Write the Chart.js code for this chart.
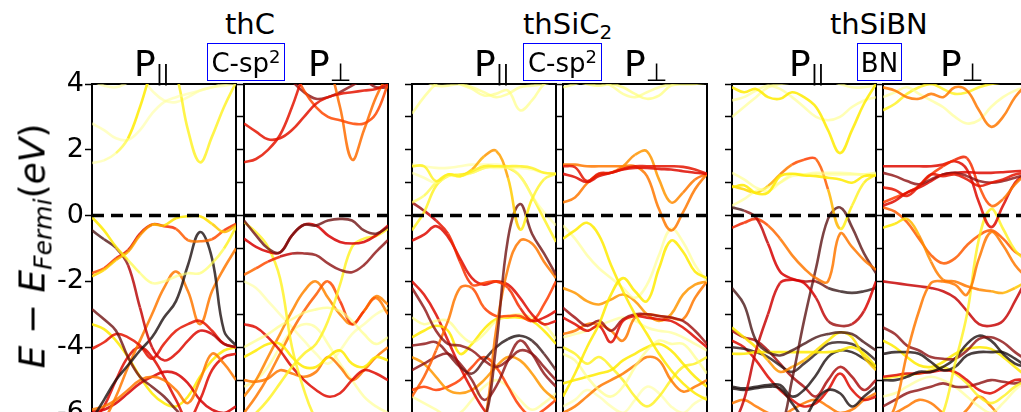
<!DOCTYPE html>
<html><head><meta charset="utf-8">
<script src="https://cdn.jsdelivr.net/npm/chart.js@4/dist/chart.umd.min.js"></script>
<style>
html,body{margin:0;padding:0;background:#fff;overflow:hidden;width:1021px;height:412px}
canvas{position:absolute}
.t{position:absolute;font-family:"DejaVu Sans";color:#000;white-space:nowrap;line-height:1}
.box{position:absolute;border:1.5px solid #0000ff;box-sizing:border-box;background:#fff;height:38px;top:43px}
.box span{position:absolute;left:0;right:0;text-align:center;top:6px;font-family:"DejaVu Sans";font-size:26px;line-height:1;white-space:nowrap}
.box sup{font-size:18px;vertical-align:9px;line-height:0}
.ttl{font-size:29px;top:10px}
.P{font-size:36px;top:46px}
.par{font-size:22px;vertical-align:-4px;letter-spacing:-1px}
.perp{font-size:25px;vertical-align:-5px}
</style></head><body>
<canvas id="c1" width="186" height="375"></canvas>
<canvas id="c2" width="156" height="375"></canvas>
<canvas id="c3" width="156" height="375"></canvas>
<canvas id="c4" width="156" height="375"></canvas>
<canvas id="c5" width="156" height="375"></canvas>
<canvas id="c6" width="156" height="375"></canvas>

<div class="t ttl" style="left:225px">thC</div>
<div class="t ttl" style="left:523px">thSiC<sub style="font-size:20px;vertical-align:-5px">2</sub></div>
<div class="t ttl" style="left:830px">thSiBN</div>

<div class="t P" style="left:134px">P<span class="par">||</span></div>
<div class="t P" style="left:308px">P<span class="perp">⊥</span></div>
<div class="t P" style="left:474px">P<span class="par">||</span></div>
<div class="t P" style="left:624px">P<span class="perp">⊥</span></div>
<div class="t P" style="left:789px">P<span class="par">||</span></div>
<div class="t P" style="left:940px">P<span class="perp">⊥</span></div>

<div class="box" style="left:207px;width:78px"><span>C-sp<sup>2</sup></span></div>
<div class="box" style="left:523px;width:79px"><span>C-sp<sup>2</sup></span></div>
<div class="box" style="left:857px;width:45px"><span>BN</span></div>

<div class="t" style="left:35px;top:246px;transform:translate(-50%,-50%) rotate(-90deg);font-size:36px"><i>E</i> − <i>E</i><sub style="font-size:25px;vertical-align:-7px"><i>Fermi</i></sub>(<i>eV</i>)</div>

<script>
// k-path sample points (shared by all panels)
const K = [0,1,2,3,4,5,6,7,8,9,10,11,12];
const yTicks = [-6,-4,-2,0,2,4];

// ---- thC, P-parallel ----
const thC_par_E = [
 [1.6,1.68,1.9,2.35,3.3,4.4,5,5,5,5,5,5,5],
 [2.8,2.6,2.35,2.3,2.6,3.1,3.45,3.6,3.7,3.8,3.9,3.95,4.0],
 [5,5,5,5,5,5,4.9,4.3,2.6,1.62,2.4,3.3,4.05],
 [4.1,3.95,3.9,4.05,4.2,3.8,3.5,3.45,3.6,3.8,3.9,4.0,4.05],
 [-0.05,-0.45,-0.95,-1.35,-1.75,-2.05,-2.0,-1.85,-1.75,-1.75,-1.45,-1.0,-0.35],
 [-1.85,-1.65,-1.35,-1.1,-0.6,-0.28,-0.3,-0.08,-0.02,-0.02,-0.25,-0.5,-0.3],
 [-1.75,-1.6,-1.3,-1.05,-0.55,-0.27,-0.32,-0.4,-0.75,-0.78,-0.72,-0.45,-0.25],
 [-0.45,-0.72,-0.98,-1.5,-2.8,-4.0,-4.4,-4.2,-3.8,-3.5,-3.6,-3.9,-4.0],
 [-6.2,-5.6,-5.0,-4.55,-4.1,-3.7,-3.1,-2.6,-1.5,-0.5,-1.3,-3.5,-3.95],
 [-2.85,-3.15,-3.5,-4.3,-4.9,-5.2,-5.5,-5.9,-6.3,-6.5,-6.5,-6.5,-6.5],
 [-4.05,-3.85,-3.6,-3.7,-3.95,-4.35,-3.9,-3.5,-3.3,-3.2,-3.5,-3.9,-4.0],
 [-6.5,-6.2,-5.5,-4.6,-3.8,-3.0,-2.2,-1.7,-2.3,-3.3,-2.3,-1.6,-1.0],
 [-5.9,-5.8,-5.6,-5.3,-5.0,-4.9,-5.0,-5.3,-5.7,-5.0,-4.2,-4.5,-5.0],
 [-5.95,-5.9,-5.7,-5.4,-5.1,-4.9,-4.75,-4.8,-5.1,-5.6,-5.9,-6.0,-5.8],
 [-6.3,-5.8,-5.0,-4.3,-4.0,-4.3,-4.9,-5.6,-6.2,-5.6,-4.7,-4.3,-4.2],
 [-3.3,-3.45,-3.8,-4.3,-4.9,-5.4,-5.7,-5.8,-5.5,-4.9,-4.4,-4.1,-4.0]
];
const thC_par_W = [
 [.05,.05,.1,.25,.25,.25,.25,.25,.25,.25,.25,.25,.25], .05, .22, .05,
 [.25,.25,.25,.2,.15,.1,.1,.1,.1,.12,.15,.2,.25],
 [.3,.3,.35,.4,.45,.45,.3,.25,.25,.25,.3,.35,.4],
 [.55,.6,.65,.7,.7,.7,.65,.6,.5,.5,.55,.6,.65],
 [.92,.92,.9,.8,.75,.75,.7,.7,.7,.7,.75,.8,.85],
 .97, .88, .68, .5, .5, .72, .7, .25
];

// ---- thC, P-perp ----
const thC_perp_E = [
 [1.62,1.72,2.0,2.45,3.3,4.3,5,5,5,5,5,5,5],
 [2.8,2.55,2.32,2.35,2.6,3.0,3.4,3.6,3.7,3.75,3.8,3.85,4.0],
 [5,5,5,5,4.5,3.8,3.3,3.0,2.9,2.8,2.8,3.1,4.0],
 [5,5,5,5,5,5,5,4.6,3.3,1.7,2.6,3.6,4.3],
 [5,5,5,4.6,4.1,3.75,3.55,3.6,3.75,3.95,4.1,3.9,3.9],
 [-0.15,-0.6,-1.0,-1.12,-0.6,-0.28,-0.3,-0.15,-0.1,-0.15,-0.45,-0.55,-0.35],
 [-0.7,-0.95,-1.1,-1.12,-0.6,-0.28,-0.3,-0.6,-0.8,-0.85,-0.8,-0.6,-0.3],
 [-1.8,-1.6,-1.4,-1.25,-1.15,-1.15,-1.2,-1.45,-1.65,-1.72,-1.5,-1.1,-0.75],
 [-0.2,-0.5,-0.95,-1.9,-4.0,-5.3,-6.2,-6.6,-6.6,-6.6,-6.6,-6.6,-6.6],
 [-6.3,-6.0,-5.6,-5.1,-4.6,-4.2,-3.9,-3.2,-2.1,-0.95,-0.7,-0.62,-0.4],
 [-4.0,-3.8,-3.6,-3.35,-3.15,-2.95,-2.85,-2.8,-2.9,-3.2,-3.6,-3.9,-3.7],
 [-3.3,-3.4,-3.7,-4.1,-4.6,-5.0,-5.3,-5.5,-5.4,-5.0,-4.7,-4.8,-5.0],
 [-4.3,-4.1,-3.9,-3.9,-4.3,-4.6,-4.6,-4.3,-4.1,-4.5,-4.6,-4.3,-4.4],
 [-5.0,-5.05,-4.95,-4.7,-4.8,-4.9,-4.75,-4.3,-4.6,-5.0,-4.7,-4.3,-4.0],
 [-6.0,-5.5,-4.9,-4.2,-3.5,-2.9,-2.4,-2.0,-2.6,-3.3,-2.9,-2.5,-3.0],
 [-5.5,-5.0,-4.3,-3.6,-2.9,-2.3,-2.0,-2.5,-3.0,-3.3,-2.9,-2.45,-2.7],
 [-5.2,-5.0,-4.6,-4.0,-3.5,-3.3,-3.4,-3.9,-4.5,-5.0,-5.5,-5.8,-6.0],
 [-2.0,-2.2,-2.6,-3.0,-3.4,-3.8,-4.2,-4.5,-4.1,-3.6,-3.3,-3.0,-2.8]
];
const thC_perp_W = [
 .68, .68, .58, .52, .85, .88, .72,
 [.5,.55,.6,.7,.8,.85,.85,.85,.85,.85,.85,.85,.85],
 .22, .22, .1, .7, .25, .5,
 [.5,.5,.5,.5,.5,.55,.55,.55,.6,.65,.6,.5,.5],
 .48, .08, .06
];

// ---- thSiC2, P-parallel ----
const thSiC2_par_E = [
 [1.5,1.5,1.05,1.25,1.2,1.35,1.5,1.5,1.5,1.5,1.45,1.3,1.27],
 [1.3,1.15,1.0,1.2,1.2,1.3,1.45,1.45,1.45,1.45,1.4,1.3,1.27],
 [0.4,0.6,1.0,1.25,1.2,1.4,1.8,1.97,1.15,-0.42,0.5,1.1,1.27],
 [1.55,1.5,1.45,1.45,1.5,1.55,1.55,1.55,1.5,1.2,0.6,0.1,-0.3],
 [-0.45,0.1,0.9,1.2,1.25,1.3,1.45,1.5,1.45,1.2,0.6,-0.1,-0.8],
 [3.1,3.6,4.0,4.2,4.0,3.85,3.65,3.7,3.8,3.2,3.5,4.0,4.2],
 [4.2,4.1,3.95,3.95,4.0,3.9,3.75,3.6,3.7,3.9,3.95,4.0,4.1],
 [0.4,0.15,-0.15,-0.55,-1.4,-2.1,-2.05,-2.0,-2.2,-2.8,-3.2,-3.1,-2.9],
 [-6.5,-6.5,-6.5,-6.5,-6.5,-6.5,-6.3,-4.0,-0.7,0.35,-0.55,-1.15,-1.8],
 [-6.5,-6.5,-6.5,-6.5,-6.5,-6.5,-6.3,-3.5,-1.6,-0.76,-0.85,-1.4,-1.9],
 [-0.76,-0.58,-0.32,-0.65,-1.3,-1.9,-2.1,-2.0,-2.1,-2.5,-3.0,-3.3,-3.2],
 [-2.2,-2.8,-3.5,-3.9,-3.95,-4.1,-4.4,-4.6,-4.4,-4.1,-4.2,-4.6,-5.0],
 [-5.5,-4.9,-4.1,-3.2,-2.2,-2.2,-2.8,-3.05,-3.05,-3.05,-3.2,-2.7,-2.0],
 [-3.1,-3.3,-3.2,-3.2,-3.6,-3.85,-3.6,-3.2,-3.05,-3.0,-3.1,-3.3,-3.75],
 [-3.7,-3.5,-3.35,-3.5,-4.2,-3.9,-3.45,-3.15,-3.1,-3.1,-3.2,-3.5,-3.9],
 [-3.95,-3.9,-3.85,-4.2,-4.6,-4.8,-4.4,-4.0,-3.75,-3.65,-3.8,-4.2,-4.7],
 [-4.7,-4.5,-4.3,-4.2,-4.5,-5.0,-5.6,-5.2,-4.4,-3.8,-4.2,-4.8,-5.2],
 [-2.0,-2.4,-3.0,-3.8,-4.6,-5.3,-5.9,-6.3,-6.5,-6.5,-6.5,-6.5,-6.5],
 [-4.3,-4.5,-4.9,-5.3,-5.4,-5.3,-5.0,-4.6,-4.3,-4.4,-4.8,-5.3,-5.6],
 [-5.3,-5.2,-5.3,-5.2,-5.0,-4.6,-4.3,-4.6,-5.2,-5.8,-6.1,-5.9,-5.6],
 [-5.5,-5.7,-5.9,-6.1,-6.0,-5.6,-5.2,-5.0,-5.2,-5.6,-5.9,-5.7,-5.4]
];
const thSiC2_par_W = [
 .22, .06,
 [.15,.15,.2,.2,.25,.35,.45,.45,.4,.25,.22,.2,.2],
 .06, .22, .1, .1,
 [.85,.8,.7,.65,.65,.6,.6,.6,.6,.65,.7,.7,.7],
 .88, .5, .7, .85,
 [.55,.55,.55,.5,.5,.55,.6,.6,.6,.6,.6,.6,.6],
 .1, .25,
 [.85,.85,.85,.85,.88,.9,.92,.95,.97,.97,.95,.92,.9],
 .85, .7, .45, .6, .08
];

// ---- thSiC2, P-perp ----
const thSiC2_perp_E = [
 [1.5,1.47,1.05,1.28,1.3,1.42,1.5,1.5,1.5,1.5,1.48,1.4,1.27],
 [1.27,1.17,1.02,1.2,1.3,1.4,1.45,1.45,1.42,1.4,1.35,1.3,1.27],
 [0.4,0.55,0.98,1.25,1.3,1.5,1.85,1.95,1.1,0.4,0.7,1.1,1.27],
 [1.55,1.55,1.5,1.5,1.5,1.5,1.5,1.2,0.2,-0.45,0.1,0.8,1.27],
 [3.9,4.0,4.1,4.1,3.95,3.7,3.6,3.75,3.9,4.0,4.05,4.1,4.2],
 [4.2,4.1,4.0,3.95,4.0,3.9,3.7,3.55,3.65,3.95,4.0,4.0,4.05],
 [-0.7,-0.45,-0.22,-0.6,-1.5,-2.3,-3.0,-3.6,-4.2,-4.7,-5.1,-5.4,-5.6],
 [-5.5,-4.8,-4.0,-3.3,-2.4,-1.9,-2.3,-2.6,-1.6,-0.76,-1.1,-1.7,-1.9],
 [-0.3,-0.7,-1.2,-1.6,-1.9,-2.2,-2.5,-2.1,-1.2,-0.4,-0.8,-1.5,-2.0],
 [-3.1,-3.3,-3.5,-3.35,-3.85,-3.2,-3.05,-3.1,-3.15,-3.2,-3.4,-3.7,-4.0],
 [-2.8,-3.1,-3.35,-3.2,-3.5,-3.15,-3.0,-3.0,-3.05,-3.1,-3.2,-3.5,-3.9],
 [-3.6,-3.5,-3.3,-3.3,-3.5,-3.8,-3.1,-3.0,-3.05,-3.1,-3.15,-2.5,-2.0],
 [-2.2,-2.35,-2.6,-2.7,-2.55,-2.4,-2.6,-3.0,-3.2,-3.0,-2.4,-2.1,-2.0],
 [-3.7,-3.6,-3.5,-3.35,-3.2,-3.1,-3.2,-3.4,-3.5,-3.55,-3.7,-3.9,-4.1],
 [-4.2,-4.4,-4.9,-5.3,-5.5,-5.2,-4.6,-4.1,-3.8,-3.9,-3.9,-4.3,-4.8],
 [-6.0,-5.8,-5.5,-5.2,-5.0,-4.8,-4.55,-4.3,-4.4,-5.0,-5.35,-5.2,-5.0],
 [-5.1,-5.0,-4.9,-4.8,-4.7,-4.4,-4.2,-4.0,-3.9,-4.1,-4.5,-4.9,-5.2],
 [-4.0,-4.2,-4.5,-4.3,-4.6,-5.0,-5.5,-5.8,-5.5,-5.0,-4.6,-4.5,-4.3],
 [-5.8,-5.6,-5.3,-5.5,-5.8,-6.0,-5.6,-5.2,-5.4,-5.8,-6.0,-5.7,-5.5]
];
const thSiC2_perp_W = [
 .68, .7,
 [.5,.5,.5,.5,.5,.48,.45,.45,.45,.45,.5,.5,.55],
 .5, .1, .12, .25, .25, .08, .7, .82, .5, .45, .08, .1, .5, .25, .22, .06
];

// ---- thSiBN, P-parallel ----
const thSiBN_par_E = [
 [0.86,0.92,0.68,0.7,1.2,1.27,1.22,1.2,1.15,1.1,1.0,1.2,1.22],
 [1.3,1.1,0.85,0.75,1.0,1.25,1.25,1.25,1.25,1.25,1.25,1.25,1.3],
 [0.3,0.5,0.75,0.85,1.0,1.2,1.25,1.3,1.3,1.3,1.28,1.25,1.27],
 [0.9,0.8,0.7,0.9,1.25,1.55,1.7,1.72,0.8,-0.4,0.3,1.0,1.25],
 [3.9,3.75,3.85,3.6,3.55,3.75,3.6,3.3,2.6,1.9,2.6,3.4,4.0],
 [3.5,3.6,3.8,3.95,3.85,3.6,3.3,3.0,2.9,3.0,3.3,3.5,3.6],
 [3.0,3.3,3.6,3.9,4.0,4.05,4.1,4.1,4.1,4.0,3.9,3.9,3.95],
 [0.25,0.15,-0.06,-0.85,-1.7,-1.92,-2.05,-2.5,-3.2,-3.35,-3.3,-2.9,-2.0],
 [-0.37,-0.22,-0.1,-0.3,-0.7,-1.2,-1.6,-1.9,-2.0,-0.55,-0.95,-1.35,-1.65],
 [-6.5,-6.5,-6.5,-6.5,-6.5,-5.0,-3.2,-1.6,-0.1,0.25,-0.35,-1.15,-1.75],
 [-2.2,-2.7,-3.8,-4.15,-4.25,-4.1,-3.9,-3.7,-3.6,-3.55,-3.6,-3.85,-4.1],
 [-6.5,-5.6,-4.1,-3.0,-2.05,-1.95,-2.0,-2.0,-2.2,-2.3,-2.35,-2.3,-2.2],
 [-4.2,-4.2,-4.15,-4.15,-4.15,-4.15,-4.15,-4.15,-4.15,-4.1,-4.0,-4.2,-4.6],
 [-3.4,-3.7,-4.0,-4.4,-4.75,-4.6,-4.4,-4.1,-3.8,-3.55,-3.7,-4.3,-4.7],
 [-4.0,-4.05,-4.15,-4.3,-4.55,-4.75,-4.5,-4.2,-3.9,-3.85,-3.9,-4.1,-4.4],
 [-5.2,-5.25,-5.2,-5.15,-5.15,-5.5,-5.3,-4.85,-4.3,-4.1,-4.15,-4.35,-4.6],
 [-5.25,-5.3,-5.25,-5.2,-5.25,-5.7,-6.1,-5.6,-5.3,-5.4,-5.8,-5.5,-5.2],
 [-3.8,-4.0,-4.4,-4.9,-5.3,-5.6,-5.8,-5.7,-5.3,-4.8,-5.3,-5.6,-5.5],
 [-5.7,-5.6,-5.8,-6.0,-6.1,-5.9,-5.7,-5.6,-5.8,-6.0,-5.9,-5.6,-5.4],
 [-3.5,-3.7,-3.8,-4.1,-4.5,-4.9,-5.2,-5.5,-5.0,-4.6,-4.9,-5.3,-5.0]
];
const thSiBN_par_W = [
 .25, .08, .08,
 [.3,.3,.3,.35,.45,.55,.6,.6,.5,.25,.22,.22,.25],
 .25, .08, .08,
 [.95,.9,.8,.72,.72,.72,.72,.72,.8,.85,.8,.72,.7],
 [.65,.65,.6,.55,.5,.5,.5,.5,.5,.5,.5,.5,.5],
 .9, .92,
 [.75,.75,.75,.75,.72,.72,.75,.85,.92,.95,.95,.95,.95],
 .25,
 [.25,.25,.3,.4,.5,.45,.35,.3,.25,.25,.25,.3,.35],
 .95, .97, .97, .7, .5, .8
];

// ---- thSiBN, P-perp ----
const thSiBN_perp_E = [
 [0.86,0.78,0.6,0.9,1.25,1.2,1.25,1.1,0.9,1.0,1.1,1.25,1.3],
 [1.3,1.2,1.05,0.95,1.1,1.25,1.3,1.2,1.05,1.0,1.05,1.15,1.25],
 [0.3,0.45,0.7,0.85,1.05,1.25,1.3,1.32,1.3,1.3,1.32,1.35,1.35],
 [0.4,0.55,0.7,0.9,1.25,1.5,1.7,1.75,0.9,0.3,0.5,0.95,1.3],
 [1.5,1.5,1.5,1.5,1.5,1.55,1.65,1.4,0.4,-0.35,0.3,1.0,1.3],
 [3.9,3.8,3.6,3.55,3.7,3.6,3.9,3.8,3.2,2.7,3.0,3.6,4.0],
 [3.6,3.75,3.9,3.7,3.5,3.3,3.0,2.8,2.9,3.3,3.6,3.8,3.9],
 [3.2,3.4,3.7,3.9,4.0,3.85,3.7,3.75,3.9,4.0,4.05,4.1,4.1],
 [-0.37,-0.25,-0.1,-0.6,-1.4,-1.95,-2.0,-2.15,-2.25,-2.3,-2.35,-2.2,-2.0],
 [-6.5,-5.8,-4.2,-2.9,-2.05,-2.0,-2.1,-2.4,-1.3,-0.5,-0.9,-1.5,-1.9],
 [-6.5,-6.5,-6.5,-6.5,-6.5,-6.0,-4.5,-3.0,-0.7,0.2,-0.4,-1.05,-1.4],
 [0.25,0.12,-0.2,-0.7,-1.2,-1.45,-1.3,-0.9,-0.6,-0.45,-0.7,-1.1,-1.3],
 [-2.0,-2.05,-2.1,-2.15,-2.2,-2.3,-2.5,-2.9,-3.3,-3.35,-3.2,-2.6,-1.9],
 [-3.4,-3.6,-3.95,-4.1,-4.3,-4.35,-4.35,-4.1,-3.75,-3.7,-3.85,-4.15,-4.4],
 [-4.2,-4.15,-4.15,-4.2,-4.45,-4.7,-4.6,-4.25,-4.15,-4.15,-4.15,-4.35,-4.6],
 [-5.0,-5.0,-4.9,-4.75,-4.75,-4.6,-4.35,-3.9,-3.65,-3.8,-4.2,-4.5,-4.6],
 [-3.8,-4.0,-4.3,-4.55,-4.6,-4.45,-4.2,-4.05,-4.0,-4.05,-4.3,-4.6,-4.9],
 [-4.9,-4.85,-4.8,-4.8,-4.75,-4.7,-4.75,-5.0,-5.3,-5.4,-5.2,-5.0,-5.0],
 [-4.95,-4.9,-4.85,-4.8,-4.7,-4.6,-4.8,-5.1,-5.5,-5.7,-5.5,-5.2,-5.0],
 [-5.8,-5.6,-5.4,-5.3,-5.2,-5.1,-5.2,-5.2,-5.1,-5.0,-5.05,-5.1,-5.0],
 [-5.5,-5.4,-5.2,-5.0,-4.9,-5.0,-5.2,-5.5,-5.8,-6.0,-5.7,-5.3,-5.0],
 [-6.1,-6.0,-5.8,-5.6,-5.7,-6.0,-6.2,-5.9,-5.5,-5.8,-6.2,-6.3,-6.2]
];
const thSiBN_perp_W = [
 .68, .85, .7,
 [.6,.6,.6,.6,.6,.62,.65,.65,.6,.55,.5,.5,.5],
 .7, .5, .08, .22,
 [.25,.25,.3,.45,.48,.5,.5,.5,.5,.45,.4,.35,.3],
 .5, .22, .55, .75, .85, .97, .97, .25, .7, .22, .85, .08, .5
];

// colour map: weight 0 (pale yellow) -> 1 (black), like reversed "hot"
const STOPS = [
 [0.00,[255,255,185,0.50]],
 [0.15,[255,255,90,0.70]],
 [0.25,[255,235,0,0.85]],
 [0.45,[255,150,0,0.85]],
 [0.60,[255,60,0,0.85]],
 [0.72,[215,0,0,0.85]],
 [0.85,[140,15,15,0.80]],
 [0.95,[45,25,25,0.80]],
 [1.00,[0,0,0,0.80]]
];
function cmap(w){
  w = Math.max(0, Math.min(1, w));
  for (let i=1;i<STOPS.length;i++){
    if (w <= STOPS[i][0]){
      const [a0,c0]=STOPS[i-1],[a1,c1]=STOPS[i];
      const f=(w-a0)/(a1-a0||1);
      const c=c0.map((v,j)=>v+(c1[j]-v)*f);
      return `rgba(${Math.round(c[0])},${Math.round(c[1])},${Math.round(c[2])},${c[3].toFixed(2)})`;
    }
  }
  return 'rgba(0,0,0,0.8)';
}

function makePanel(id, E, W, showLabels, axisW, rightBorder){
  const ds = [{
    data:[{x:K[0],y:0},{x:K[K.length-1],y:0}],
    borderColor:'#000', borderWidth:3.5, borderDash:[12,7], pointRadius:0, tension:0
  }];
  E.forEach((ys,i)=>{
    const w = W[i];
    const d = {data: ys.map((y,j)=>({x:K[j], y})), borderWidth:2.6, pointRadius:0, tension:0.4,
      borderColor: Array.isArray(w) ? cmap(w[0]) : cmap(w)};
    if (Array.isArray(w)) d.segment = {borderColor: c => cmap((w[c.p0DataIndex]+w[c.p1DataIndex])/2)};
    ds.push(d);
  });
  new Chart(document.getElementById(id), {
    type:'line',
    data:{datasets:ds},
    options:{
      responsive:false, animation:false, events:[],
      layout:{autoPadding:false, padding:{top:24,bottom:22,left:0,right:2}},
      plugins:{legend:{display:false}, tooltip:{enabled:false}},
      scales:{
        x:{type:'linear', min:0, max:12, ticks:{display:false}, grid:{display:false},
           border:{display:true,color:'#000',width:2}, afterFit:s=>{s.height=0;}},
        xt:{type:'linear', position:'top', min:0, max:12, ticks:{display:false}, grid:{display:false},
           border:{display:true,color:'#000',width:2}, afterFit:s=>{s.height=0;}},
        y:{type:'linear', min:-6, max:4,
           ticks:{stepSize:1, display:showLabels, padding:1, color:'#000',
                  font:{family:'DejaVu Sans', size:27},
                  callback:v => yTicks.includes(v) ? String(v) : ''},
           grid:{drawOnChartArea:false, drawTicks:true, tickLength:7, tickWidth:1.5, color:'#000'},
           border:{display:true,color:'#000',width:2},
           afterFit:s=>{s.width=axisW;}},
        yr:{type:'linear', position:'right', min:-6, max:4, display:rightBorder,
           ticks:{display:false}, grid:{display:false},
           border:{display:true,color:'#000',width:2}, afterFit:s=>{s.width=0;}}
      }
    }
  });
}

const panelLefts = [92,244,412,563,732,883];
const panels = [
  ['c1', thC_par_E, thC_par_W, true, 40, true],
  ['c2', thC_perp_E, thC_perp_W, false, 10, true],
  ['c3', thSiC2_par_E, thSiC2_par_W, false, 10, true],
  ['c4', thSiC2_perp_E, thSiC2_perp_W, false, 10, true],
  ['c5', thSiBN_par_E, thSiBN_par_W, false, 10, true],
  ['c6', thSiBN_perp_E, thSiBN_perp_W, false, 10, false]
];
panels.forEach((p,i)=>{
  const cv = document.getElementById(p[0]);
  cv.style.left = (panelLefts[i]-p[4])+'px';
  cv.style.top = '60px';
  makePanel(...p);
});
</script>
</body></html>
